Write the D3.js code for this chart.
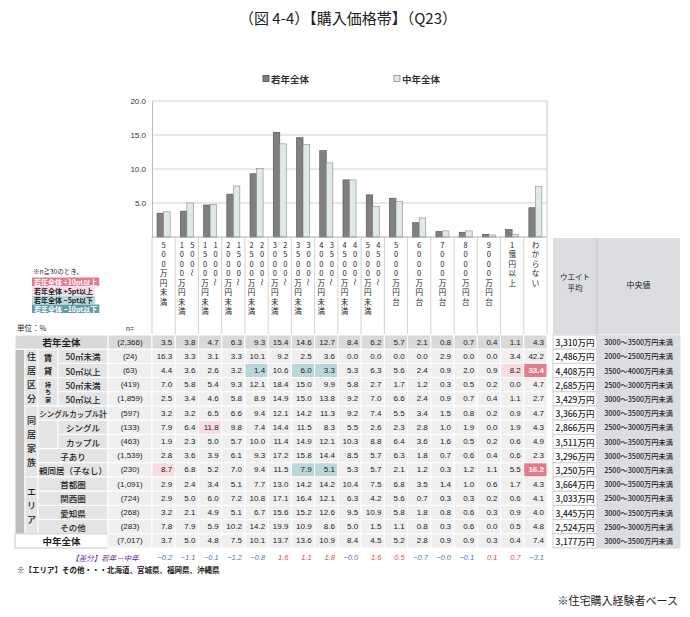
<!DOCTYPE html>
<html>
<head>
<meta charset="utf-8">
<script src="https://cdn.jsdelivr.net/npm/d3@7"></script>
<style>
body { margin: 0; background: #fff; }
text { font-family: "Noto Sans CJK JP", "Liberation Sans", sans-serif; fill: #222; }
.num { font-family: "Liberation Sans", Arial, sans-serif; }
</style>
</head>
<body>
<svg id="chart" width="690" height="617"></svg>
<script>
"use strict";

// price bands (x categories)
const categories = ["500万円未満", "500～1000万円未満", "1000～1500万円未満", "1500～2000万円未満",
  "2000～2500万円未満", "2500～3000万円未満", "3000～3500万円未満", "3500～4000万円未満",
  "4000～4500万円未満", "4500～5000万円未満", "5000万円台", "6000万円台", "7000万円台",
  "8000万円台", "9000万円台", "1億円以上", "わからない"];

const yTicks = [5, 10, 15, 20];

// table rows (%)
const youngAll     = [3.5, 3.8, 4.7, 6.3, 9.3, 15.4, 14.6, 12.7, 8.4, 6.2, 5.7, 2.1, 0.8, 0.7, 0.4, 1.1, 4.3];
const rentUnder50  = [16.3, 3.3, 3.1, 3.3, 10.1, 9.2, 2.5, 3.6, 0.0, 0.0, 0.0, 0.0, 2.9, 0.0, 0.0, 3.4, 42.2];
const rentOver50   = [4.4, 3.6, 2.6, 3.2, 1.4, 10.6, 6.0, 3.3, 5.3, 6.3, 5.6, 2.4, 0.9, 2.0, 0.9, 8.2, 33.4];
const ownUnder50   = [7.0, 5.8, 5.4, 9.3, 12.1, 18.4, 15.0, 9.9, 5.8, 2.7, 1.7, 1.2, 0.3, 0.5, 0.2, 0.0, 4.7];
const ownOver50    = [2.5, 3.4, 4.6, 5.8, 8.9, 14.9, 15.0, 13.8, 9.2, 7.0, 6.6, 2.4, 0.9, 0.7, 0.4, 1.1, 2.7];
const singleCouple = [3.2, 3.2, 6.5, 6.6, 9.4, 12.1, 14.2, 11.3, 9.2, 7.4, 5.5, 3.4, 1.5, 0.8, 0.2, 0.9, 4.7];
const single       = [7.9, 6.4, 11.8, 9.8, 7.4, 14.4, 11.5, 8.3, 5.5, 2.6, 2.3, 2.8, 1.0, 1.9, 0.0, 1.9, 4.3];
const couple       = [1.9, 2.3, 5.0, 5.7, 10.0, 11.4, 14.9, 12.1, 10.3, 8.8, 6.4, 3.6, 1.6, 0.5, 0.2, 0.6, 4.9];
const withKids     = [2.8, 3.6, 3.9, 6.1, 9.3, 17.2, 15.8, 14.4, 8.5, 5.7, 6.3, 1.8, 0.7, 0.6, 0.4, 0.6, 2.3];
const withParents  = [8.7, 6.8, 5.2, 7.0, 9.4, 11.5, 7.9, 5.1, 5.3, 5.7, 2.1, 1.2, 0.3, 1.2, 1.1, 5.5, 16.2];
const tokyoArea    = [2.9, 2.4, 3.4, 5.1, 7.7, 13.0, 14.2, 14.2, 10.4, 7.5, 6.8, 3.5, 1.4, 1.0, 0.6, 1.7, 4.3];
const kansaiArea   = [2.9, 5.0, 6.0, 7.2, 10.8, 17.1, 16.4, 12.1, 6.3, 4.2, 5.6, 0.7, 0.3, 0.3, 0.2, 0.6, 4.1];
const aichi        = [3.2, 2.1, 4.9, 5.1, 6.7, 15.6, 15.2, 12.6, 9.5, 10.9, 5.8, 1.8, 0.8, 0.6, 0.3, 0.9, 4.0];
const otherArea    = [7.8, 7.9, 5.9, 10.2, 14.2, 19.9, 10.9, 8.6, 5.0, 1.5, 1.1, 0.8, 0.3, 0.6, 0.0, 0.5, 4.8];
const midAll       = [3.7, 5.0, 4.8, 7.5, 10.1, 13.7, 13.6, 10.9, 8.4, 4.5, 5.2, 2.8, 0.9, 0.9, 0.3, 0.4, 7.4];

const rowLabels = ["若年全体", "50㎡未満", "50㎡以上", "50㎡未満", "50㎡以上", "シングルカップル計",
  "シングル", "カップル", "子あり", "親同居（子なし）", "首都圏", "関西圏", "愛知県", "その他", "中年全体"];
const rowN = [2366, 24, 63, 419, 1859, 597, 133, 463, 1539, 230, 1091, 724, 268, 283, 7017];
const rowValues = [youngAll, rentUnder50, rentOver50, ownUnder50, ownOver50, singleCouple, single,
  couple, withKids, withParents, tokyoArea, kansaiArea, aichi, otherArea, midAll];
const weightAvg = [3310, 2486, 4408, 2685, 3429, 3366, 2866, 3511, 3296, 3250, 3664, 3033, 3445, 2524, 3177];
const medians = ["3000～3500万円未満", "2000～2500万円未満", "3500～4000万円未満", "2500～3000万円未満",
  "3000～3500万円未満", "3000～3500万円未満", "2500～3000万円未満", "3000～3500万円未満",
  "3000～3500万円未満", "2500～3000万円未満", "3000～3500万円未満", "2500～3000万円未満",
  "3000～3500万円未満", "2500～3000万円未満", "3000～3500万円未満"];

// 若年 - 中年 (as printed, -0 means "−0.0")
const diffValues = [-0.2, -1.1, -0.1, -1.2, -0.8, 1.6, 1.1, 1.8, -0, 1.6, 0.5, -0.7, -0, -0.1, 0.1, 0.7, -3.1];

const legendNote = ["若年全体 +10pt以上", "若年全体 +5pt以上", "若年全体 −5pt以下", "若年全体 −10pt以下"];

// colours
const youngFill = "#808080", youngStroke = "#4d4d4d";
const midFill = "#dfe9ea", midStroke = "#8a8a8a";
const hlFill = ["#e8798c", "#f9dce2", "#b9d8dc", "#5d9fa6"];
const hlText = ["#fff", "#222", "#222", "#fff"];

const svg = d3.select("#chart");

// title
svg.append("text")
  .attr("x", 348).attr("y", 24)
  .attr("text-anchor", "middle")
  .style("font-size", "15px")
  .text("（図 4-4）【購入価格帯】（Q23）");

// legend
const legend = svg.append("g");
[["若年全体", youngFill, youngStroke, 263], ["中年全体", midFill, midStroke, 394]].forEach(function(d) {
  legend.append("rect").attr("x", d[3]).attr("y", 75.5).attr("width", 6).attr("height", 6)
    .attr("fill", d[1]).attr("stroke", d[2]).attr("stroke-width", 0.8);
  legend.append("text").attr("x", d[3] + 8).attr("y", 82.5)
    .style("font-size", "9.5px").style("font-weight", "bold").style("fill", "#333").text(d[0]);
});

// scales
const x = d3.scaleBand().domain(categories).range([152, 547]);
const xs = d3.scaleBand().domain(["young", "mid"]).range([0, x.bandwidth()]).paddingOuter(0.78);
const y = d3.scaleLinear().domain([0, 20]).range([237, 101]);

// gridlines
svg.append("g").selectAll("line").data(yTicks).join("line")
  .attr("x1", 152).attr("x2", 547)
  .attr("y1", d => y(d)).attr("y2", d => y(d))
  .attr("stroke", "#c4c4c4").attr("stroke-width", 0.8);

// y axis
const yAxis = svg.append("g")
  .attr("transform", "translate(152,0)")
  .call(d3.axisLeft(y).tickValues(yTicks).tickFormat(d3.format(".1f")).tickSize(0).tickPadding(6));
yAxis.select(".domain").attr("stroke", "#bbb");
yAxis.selectAll("text").attr("class", "num").style("font-size", "8px").style("fill", "#333");

// right border of plot
svg.append("line").attr("x1", 547).attr("x2", 547).attr("y1", y(20)).attr("y2", y(0))
  .attr("stroke", "#bbb").attr("stroke-width", 0.8);

// bars
const barG = svg.append("g").selectAll("g").data(categories).join("g")
  .attr("transform", d => "translate(" + x(d) + ",0)");
barG.append("rect")
  .attr("x", xs("young")).attr("width", xs.bandwidth())
  .attr("y", (d, i) => y(youngAll[i])).attr("height", (d, i) => y(0) - y(youngAll[i]))
  .attr("fill", youngFill).attr("stroke", youngStroke).attr("stroke-width", 0.6);
barG.append("rect")
  .attr("x", xs("mid")).attr("width", xs.bandwidth())
  .attr("y", (d, i) => y(midAll[i])).attr("height", (d, i) => y(0) - y(midAll[i]))
  .attr("fill", midFill).attr("stroke", midStroke).attr("stroke-width", 0.6);

// baseline
svg.append("line").attr("x1", 152).attr("x2", 547).attr("y1", y(0)).attr("y2", y(0))
  .attr("stroke", "#999").attr("stroke-width", 0.8);

// column separators down through the label area
const bounds = categories.map(c => x(c)).concat([x.range()[1]]);
svg.append("g").selectAll("line").data(bounds).join("line")
  .attr("x1", d => d).attr("x2", d => d).attr("y1", y(0)).attr("y2", 335)
  .attr("stroke", "#c8c8c8").attr("stroke-width", 0.8);

// vertical text helper
function vtext(g, str, cx, cy0, step, size, extra) {
  Array.from(str).forEach(function(ch, k) {
    const t = g.append("text")
      .attr("x", cx).attr("y", cy0 + k * step)
      .attr("text-anchor", "middle").attr("dominant-baseline", "central")
      .style("font-size", size + "px")
      .text(ch);
    if (extra) extra(t);
    if (ch === "～") t.attr("transform", "rotate(90," + cx + "," + (cy0 + k * step) + ")");
  });
}

// category labels
const catG = svg.append("g");
categories.forEach(function(c) {
  const cx = x(c) + x.bandwidth() / 2;
  if (c.indexOf("～") >= 0) {
    const p = c.split("～");
    vtext(catG, p[0] + "～", cx + 5.5, 244, 9.5, 7.5);
    vtext(catG, p[1], cx - 5, 244, 9.5, 7.5);
  } else {
    vtext(catG, c, cx, 244, 9.5, 7.5);
  }
});

// highlight legend
svg.append("text").attr("x", 33).attr("y", 274).style("font-size", "6.5px").text("※n≧30のとき、");
legendNote.forEach(function(s, i) {
  const yy = 277.5 + i * 9;
  const r = svg.append("rect").attr("x", 32).attr("y", yy).attr("height", 8.5).attr("fill", hlFill[i]);
  const t = svg.append("text").attr("x", 34).attr("y", yy + 7)
    .style("font-size", "7px").style("font-weight", "bold").style("fill", hlText[i]).text(s);
  r.attr("width", t.node().getComputedTextLength() + 4);
});

// table
const rowY = d3.scaleBand().domain(d3.range(rowLabels.length)).range([335, 548]);
const rh = rowY.bandwidth();

svg.append("text").attr("x", 17).attr("y", 331).style("font-size", "7.5px").text("単位：%");
svg.append("text").attr("x", 126).attr("y", 331).attr("class", "num").style("font-size", "7px").text("n=");

function cellColor(r, i) {
  if (r === 0 || r === rowValues.length - 1 || rowN[r] < 30) return null;
  const d = rowValues[r][i] - youngAll[i];
  if (d >= 10) return 0;
  if (d >= 5) return 1;
  if (d <= -10) return 3;
  if (d <= -5) return 2;
  return null;
}

const tbl = svg.append("g");
const labelFill = "#e4e4e4";
function cell(x0, x1, r0, r1, fill, stroke) {
  tbl.append("rect").attr("x", x0).attr("y", rowY(r0)).attr("width", x1 - x0)
    .attr("height", rowY(r1) + rh - rowY(r0))
    .attr("fill", fill).attr("stroke", stroke || "#fff").attr("stroke-width", 1);
}

// left strip and group columns
cell(15, 25, 1, 13, "#bdbdbd");
[["住居区分", 1, 4], ["同居家族", 5, 9], ["エリア", 10, 13]].forEach(function(g) {
  cell(25, 38, g[1], g[2], labelFill);
  const n = Array.from(g[0]).length;
  const cy = (rowY(g[1]) + rowY(g[2]) + rh) / 2;
  vtext(tbl, g[0], 31.5, cy - (n - 1) * 7, 14, 9, t => t.style("font-weight", "500"));
});
[["賃貸", 1, 2, 13, 8.5], ["持ち家", 3, 4, 7.5, 6], ["", 6, 7, 0, 0]].forEach(function(g) {
  cell(38, 58, g[1], g[2], labelFill);
  const n = Array.from(g[0]).length;
  const cy = (rowY(g[1]) + rowY(g[2]) + rh) / 2;
  if (n) vtext(tbl, g[0], 48, cy - (n - 1) * g[3] / 2, g[3], g[4], t => t.style("font-weight", "bold"));
});

rowLabels.forEach(function(lab, r) {
  let x0 = 38;
  if (r === 0 || r === rowLabels.length - 1) x0 = 15;
  else if ([1, 2, 3, 4, 6, 7].indexOf(r) >= 0) x0 = 58;
  const last = r === rowLabels.length - 1;
  cell(x0, 108, r, r, r === 0 ? "#d9d9d9" : (last ? "#fff" : labelFill), last ? "#c8c8c8" : "#fff");
  const big = r === 0 || last;
  tbl.append("text").attr("x", (x0 + 108) / 2).attr("y", rowY(r) + rh / 2)
    .attr("text-anchor", "middle").attr("dominant-baseline", "central")
    .style("font-size", (big ? 9.5 : (r === 5 ? 7.5 : 8.5)) + "px")
    .style("font-weight", big ? "bold" : "500")
    .text(lab);
  // n
  cell(108, 152, r, r, r === 0 ? "#d9d9d9" : "#efefef");
  tbl.append("text").attr("class", "num").attr("x", 130).attr("y", rowY(r) + rh / 2)
    .attr("text-anchor", "middle").attr("dominant-baseline", "central")
    .style("font-size", "8px").text("(" + d3.format(",")(rowN[r]) + ")");
  // values
  rowValues[r].forEach(function(v, i) {
    const hc = cellColor(r, i);
    const c = categories[i];
    cell(x(c), x(c) + x.bandwidth(), r, r, hc !== null ? hlFill[hc] : (r === 0 ? "#d9d9d9" : "#efefef"));
    tbl.append("text").attr("class", "num")
      .attr("x", x(c) + x.bandwidth() - 3).attr("y", rowY(r) + rh / 2)
      .attr("text-anchor", "end").attr("dominant-baseline", "central")
      .style("font-size", "8px")
      .style("font-weight", hc === 0 ? "bold" : "normal")
      .style("fill", hc !== null ? hlText[hc] : "#222")
      .text(v.toFixed(1));
  });
  // weight average & median
  cell(553, 597, r, r, "#fff", "#d0d0d0");
  tbl.append("text").attr("x", 575).attr("y", rowY(r) + rh / 2)
    .attr("text-anchor", "middle").attr("dominant-baseline", "central")
    .style("font-size", "8.5px").style("font-weight", "500").text(d3.format(",")(weightAvg[r]) + "万円");
  cell(597, 680, r, r, "#dcdde0", "#dcdde0");
  tbl.append("text").attr("x", 638.5).attr("y", rowY(r) + rh / 2)
    .attr("text-anchor", "middle").attr("dominant-baseline", "central")
    .style("font-size", "7.2px").style("font-weight", "500").text(medians[r]);
});

// header block for weight average / median
svg.append("rect").attr("x", 553).attr("y", 238).attr("width", 127).attr("height", 96).attr("fill", "#dcdde0");
svg.append("line").attr("x1", 597).attr("x2", 597).attr("y1", 238).attr("y2", 334).attr("stroke", "#c4c6ca");
svg.append("text").attr("x", 575).attr("y", 280).attr("text-anchor", "middle").style("font-size", "7.5px").text("ウエイト");
svg.append("text").attr("x", 575).attr("y", 291).attr("text-anchor", "middle").style("font-size", "7.5px").text("平均");
svg.append("text").attr("x", 638.5).attr("y", 288).attr("text-anchor", "middle").style("font-size", "8px").text("中央値");

// difference row
const diffY = 557;
svg.append("text").attr("x", 105).attr("y", diffY).attr("text-anchor", "middle").attr("dominant-baseline", "central")
  .style("font-size", "7.5px").style("font-style", "italic").style("fill", "#7030a0").text("【差分】若年－中年");
svg.append("g").selectAll("text").data(diffValues).join("text")
  .attr("class", "num")
  .attr("x", (d, i) => x(categories[i]) + x.bandwidth() - 3)
  .attr("y", diffY)
  .attr("text-anchor", "end").attr("dominant-baseline", "central")
  .style("font-size", "7.5px").style("font-style", "italic")
  .style("fill", d => (d < 0 || Object.is(d, -0)) ? "#4a78c0" : "#e0483f")
  .text(d => ((d < 0 || Object.is(d, -0)) ? "−" : "") + Math.abs(d).toFixed(1));

// notes
svg.append("text").attr("x", 17).attr("y", 573).style("font-size", "7.5px").style("font-weight", "bold")
  .text("※【エリア】その他・・・北海道、宮城県、福岡県、沖縄県");
svg.append("text").attr("x", 678).attr("y", 605).attr("text-anchor", "end").style("font-size", "11px")
  .text("※住宅購入経験者ベース");
</script>
</body>
</html>
